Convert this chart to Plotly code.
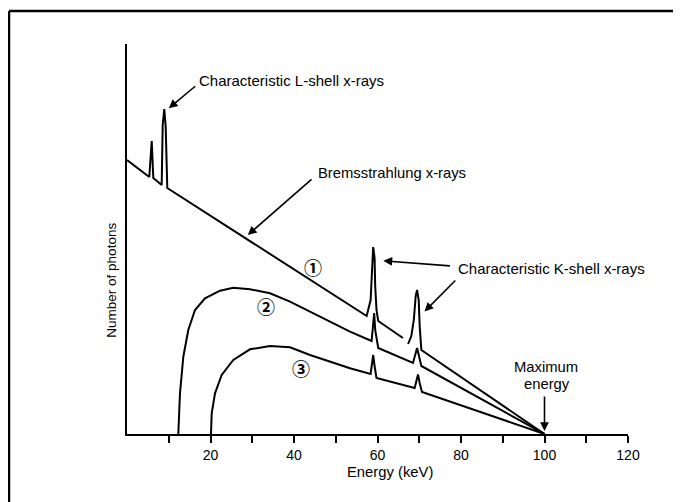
import plotly.graph_objects as go

# ---- data (energy in keV, relative number of photons) ----
energy_1 = [0, 5.34, 5.92, 6.30, 8.31, 8.55, 8.93, 9.27, 9.65, 57.4, 58.35, 58.73, 58.97,
            59.3, 59.45, 59.76, 60.17, 66.1, None, 67.33, 68.1, 68.7, 69.15, 69.48, 69.87,
            70.1, 70.5, 100]
photons_1 = [274, 257, 293, 256, 249, 309, 325, 307, 246, 118, 134, 164, 187,
             176, 148, 124, 113, 96, None, 90, 98, 114, 138, 144, 134,
             108, 84, 0]

energy_2 = [12.29, 12.69, 13.49, 14.68, 16.29, 18.68, 22.28, 25.46, 29.46, 34.25, 39.04,
            43.83, 48.62, 53.41, 58.59, 58.9, 59.2, 59.45, 59.76, 60.17, 68.5, 69.15,
            69.48, 69.94, 70.5, 100]
photons_2 = [0, 40.7, 77.3, 104, 124, 135.7, 143.3, 146.3, 144.7, 140.7, 132.3,
             122.3, 112.3, 102.3, 93, 108, 121, 104, 94, 86, 71, 81,
             86, 78, 68, 0]

energy_3 = [20.12, 20.29, 21.08, 22.68, 25.46, 29.46, 34.25, 39.04, 43.83, 48.62, 53.41,
            58.35, 58.97, 59.3, 59.76, 68.9, 69.3, 69.7, 70.1, 70.66, 100]
photons_3 = [0, 20.7, 40.7, 59, 74, 84.7, 88, 86.7, 79, 72.3, 65.7,
             60, 79, 68, 56, 46, 53, 59.5, 51, 42, 0]

tick_values = [10, 20, 30, 40, 50, 60, 70, 80, 90, 100, 110, 120]
tick_labels = ["", "20", "", "40", "", "60", "", "80", "", "100", "", "120"]

FONT = "Liberation Sans, Arial, Helvetica, sans-serif"
CIRC = "Noto Sans CJK JP, DejaVu Sans, sans-serif"

fig = go.Figure()
for ex, ph in [(energy_1, photons_1), (energy_2, photons_2), (energy_3, photons_3)]:
    fig.add_trace(go.Scatter(x=ex, y=ph, mode="lines", connectgaps=False,
                             line=dict(color="black", width=2), hoverinfo="skip"))

def label(x, y, text, size=14.8, family=FONT, angle=0, ref="", weight="normal"):
    fig.add_annotation(x=x, y=y, xref="paper" if ref else "x", yref="paper" if ref else "y",
                       text=text, showarrow=False, textangle=angle,
                       font=dict(family=family, size=size, color="black", weight=weight),
                       xanchor="center", yanchor="middle")

def arrow(x, y, ax, ay):
    fig.add_annotation(x=x, y=y, ax=ax, ay=ay, xref="x", yref="y", axref="x", ayref="y",
                       text="", showarrow=True, arrowhead=2, arrowsize=1.1,
                       arrowwidth=1.6, arrowcolor="black", standoff=0, startstandoff=0)

label(39.3, 354, "Characteristic L-shell x-rays", size=15)
arrow(10.0, 325.7, 16.7, 349)
label(63.5, 261, "Bremsstrahlung x-rays")
arrow(28.93, 199, 44.55, 256)
label(101.6, 166, "Characteristic K-shell x-rays", size=15)
arrow(61.4, 173.2, 77.7, 168)
arrow(71.26, 122.5, 79.0, 155)
label(100.3, 67.5, "Maximum")
label(100.6, 50, "energy")
arrow(100, 3, 100, 39)

label(44.55, 167, "①", size=18, family=CIRC, weight="bold")
label(33.3, 128, "②", size=18, family=CIRC, weight="bold")
label(41.6, 66, "③", size=18, family=CIRC, weight="bold")

label(0.524, -0.0974, "Energy (keV)", ref="paper")
label(-0.0305, 0.395, "Number of photons", size=13.5, angle=-90, ref="paper")

# frame lines of the figure
fig.add_shape(type="line", xref="paper", yref="paper", x0=-0.2355, x1=1.2,
              y0=1.0846, y1=1.0846, line=dict(color="black", width=2.5))
fig.add_shape(type="line", xref="paper", yref="paper", x0=-0.2355, x1=-0.2355,
              y0=1.0846, y1=-0.25, line=dict(color="black", width=2.5))

# page body has an 8px default margin, so the figure is offset by 8px on screen
fig.update_layout(
    width=681, height=502,
    margin=dict(l=119, r=61, t=36, b=76),
    paper_bgcolor="white", plot_bgcolor="white",
    showlegend=False,
    font=dict(family=FONT, color="black"),
    xaxis=dict(range=[0, 120], showgrid=False, zeroline=False, showline=True,
               linecolor="black", linewidth=2, ticks="outside", ticklen=7,
               tickwidth=1.5, tickcolor="black", tickvals=tick_values,
               ticktext=tick_labels, tickfont=dict(size=14, family=FONT, color="black")),
    yaxis=dict(range=[0, 390], showgrid=False, zeroline=False, showline=True,
               linecolor="black", linewidth=2, ticks="", showticklabels=False),
)

fig.write_html("out.html")
